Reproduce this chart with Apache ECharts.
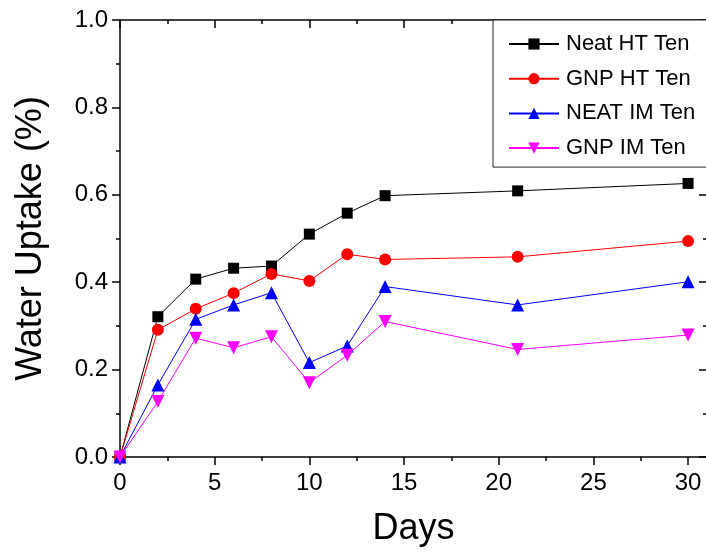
<!DOCTYPE html>
<html>
<head>
<meta charset="utf-8">
<script src="https://cdn.jsdelivr.net/npm/echarts@6/dist/echarts.min.js"></script>
<style>
html,body{margin:0;padding:0;background:#fff;}
#chart{width:706px;height:552px;}
</style>
</head>
<body>
<div id="chart"></div>
<script>
var days = [0, 2, 4, 6, 8, 10, 12, 14, 21, 30];
var neatHT = [0.0, 0.321, 0.407, 0.432, 0.437, 0.510, 0.558, 0.598, 0.609, 0.626];
var gnpHT  = [0.0, 0.291, 0.339, 0.375, 0.419, 0.403, 0.464, 0.452, 0.458, 0.494];
var neatIM = [0.0, 0.165, 0.315, 0.348, 0.376, 0.216, 0.254, 0.390, 0.348, 0.401];
var gnpIM  = [0.0, 0.127, 0.272, 0.250, 0.275, 0.170, 0.233, 0.310, 0.246, 0.279];
var seriesNames = ['Neat HT Ten', 'GNP HT Ten', 'NEAT IM Ten', 'GNP IM Ten'];
var xTitle = 'Days';
var yTitle = 'Water Uptake (%)';

function pairs(vals) { return days.map(function (d, i) { return [d, vals[i]]; }); }

var FONT = 'Liberation Sans, Arial, sans-serif';
var axisLineStyle = { color: '#000', width: 1.5 };

function mkSeries(name, vals, color, symbol, size) {
  return {
    name: name, type: 'line', data: pairs(vals),
    xAxisIndex: 0, yAxisIndex: 0,
    symbol: symbol, symbolSize: size,
    showAllSymbol: true,
    lineStyle: { color: color, width: 1 },
    itemStyle: { color: color, borderWidth: 0 },
    emphasis: { disabled: true },
    animation: false
  };
}

var chart = echarts.init(document.getElementById('chart'), null, { renderer: 'canvas' });
chart.setOption({
  backgroundColor: '#fff',
  animation: false,
  grid: { left: 120, top: 20, width: 587, height: 437, containLabel: false, outerBoundsMode: 'none' },
  legend: {
    left: 493, top: 20,
    orient: 'vertical',
    backgroundColor: '#fff',
    borderColor: '#222', borderWidth: 1, borderRadius: 0,
    padding: [13, 30, 8, 15],
    itemWidth: 50, itemHeight: 14, itemGap: 12.7,
    textStyle: { fontFamily: FONT, fontSize: 22, color: '#000', padding: [0, 0, 0, 2] },
    data: seriesNames
  },
  xAxis: [{
    type: 'value', position: 'bottom', min: 0, max: 31, interval: 5,
    axisLine: { show: true, onZero: false, lineStyle: axisLineStyle },
    axisTick: { show: true, inside: false, length: 8, lineStyle: { color: '#000', width: 1.5 } },
    minorTick: { show: true, splitNumber: 2, length: 4, lineStyle: { color: '#000', width: 1.5 } },
    splitLine: { show: false },
    axisLabel: {
      margin: 14, fontFamily: FONT, fontSize: 24, color: '#000',
      formatter: function (v) { return (v % 5 === 0) ? String(v) : ''; }
    },
    name: xTitle, nameLocation: 'middle', nameGap: 54,
    nameTextStyle: { fontFamily: FONT, fontSize: 36, color: '#000' }
  }, {
    type: 'value', position: 'top', min: 0, max: 31, interval: 5,
    axisLine: { show: true, onZero: false, lineStyle: axisLineStyle },
    axisTick: { show: true, inside: true, length: 8, lineStyle: { color: '#000', width: 1.5 } },
    minorTick: { show: true, splitNumber: 2, length: 4, lineStyle: { color: '#000', width: 1.5 } },
    splitLine: { show: false },
    axisLabel: { show: false }
  }],
  yAxis: [{
    type: 'value', position: 'left', min: 0, max: 1, interval: 0.2,
    axisLine: { show: true, onZero: false, lineStyle: axisLineStyle },
    axisTick: { show: true, inside: false, length: 8, lineStyle: { color: '#000', width: 1.5 } },
    minorTick: { show: true, splitNumber: 2, length: 4, lineStyle: { color: '#000', width: 1.5 } },
    splitLine: { show: false },
    axisLabel: {
      margin: 12, fontFamily: FONT, fontSize: 24, color: '#000',
      formatter: function (v) { return v.toFixed(1); }
    },
    name: yTitle, nameLocation: 'middle', nameGap: 71, nameRotate: 90,
    nameTextStyle: { fontFamily: FONT, fontSize: 36, color: '#000' }
  }, {
    type: 'value', position: 'right', min: 0, max: 1, interval: 0.2,
    axisLine: { show: true, onZero: false, lineStyle: axisLineStyle },
    axisTick: { show: true, inside: true, length: 8, lineStyle: { color: '#000', width: 1.5 } },
    minorTick: { show: true, splitNumber: 2, length: 4, lineStyle: { color: '#000', width: 1.5 } },
    splitLine: { show: false },
    axisLabel: { show: false }
  }],
  series: [
    mkSeries(seriesNames[0], neatHT, '#000000', 'rect', 11),
    mkSeries(seriesNames[1], gnpHT, '#ff0000', 'circle', 12),
    mkSeries(seriesNames[2], neatIM, '#0000ff', 'triangle', 13),
    mkSeries(seriesNames[3], gnpIM, '#ff00ff', 'path://M0,0 L10,0 L5,9 Z', 13)
  ]
});
</script>
</body>
</html>
